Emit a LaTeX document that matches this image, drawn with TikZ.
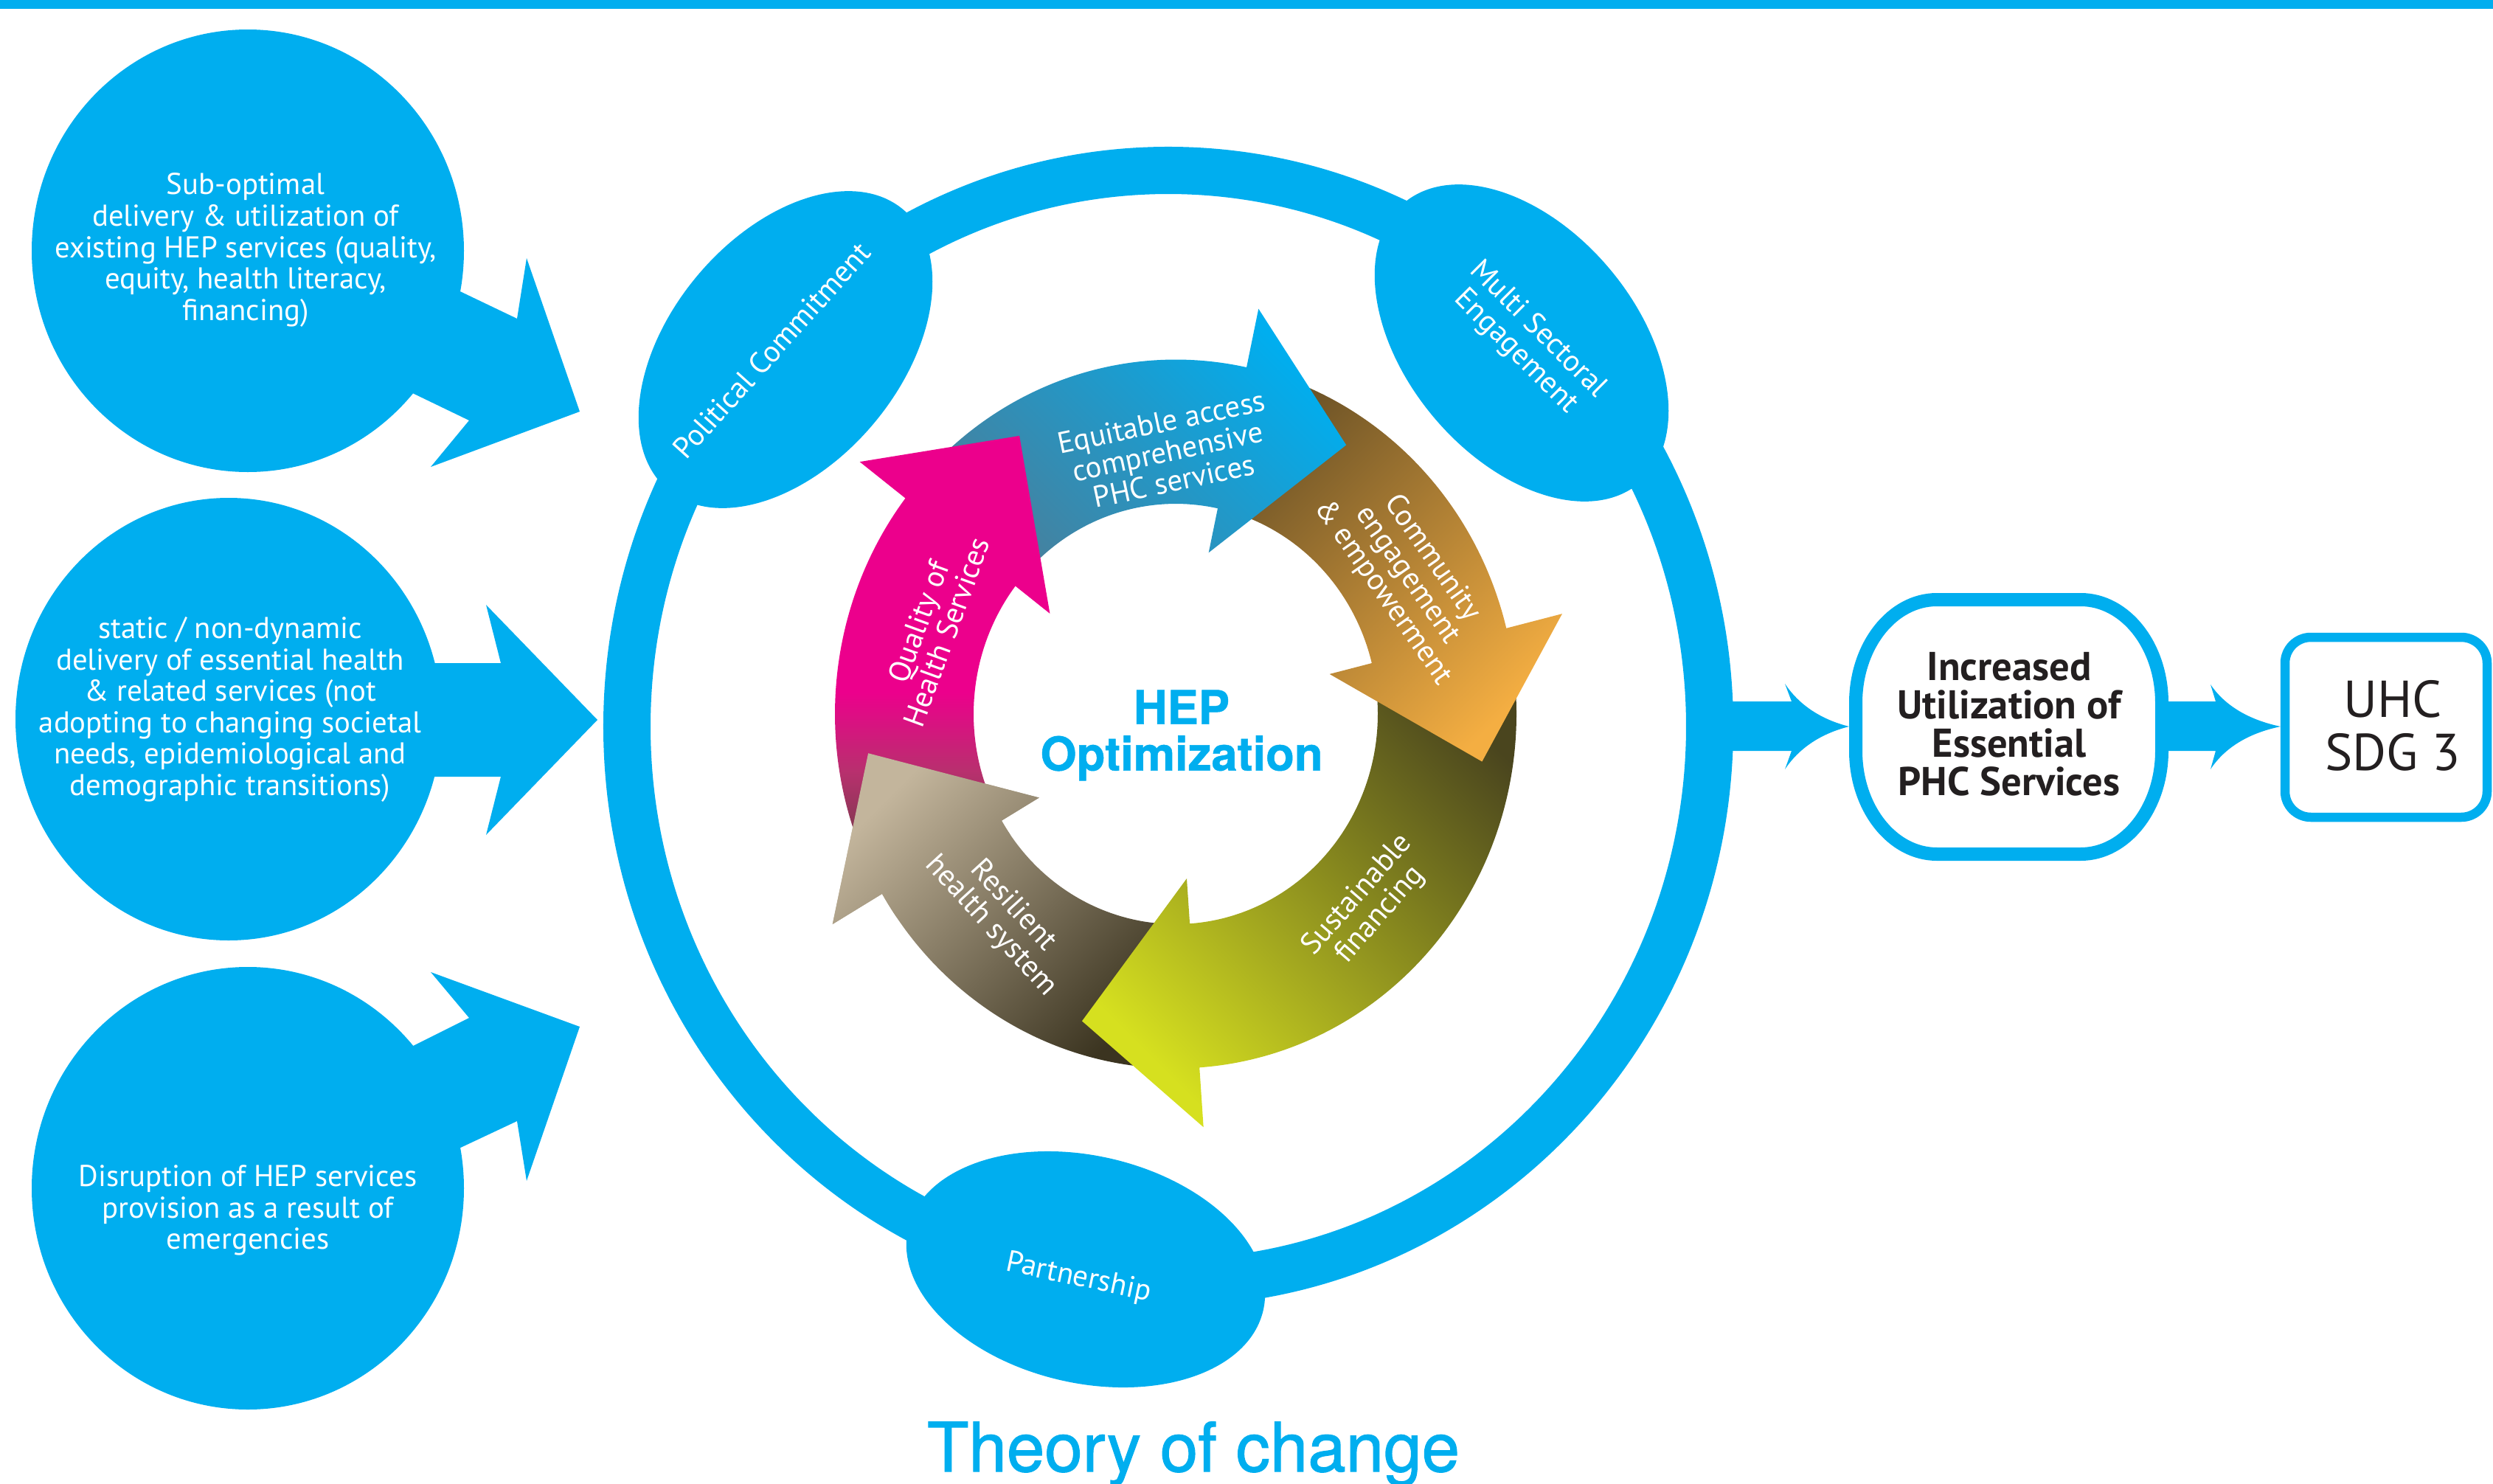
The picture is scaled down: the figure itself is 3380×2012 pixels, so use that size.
\documentclass[tikz,border=0pt]{standalone}
\usepackage{fontspec}
\setmainfont{PT Sans}
\newfontfamily\helv{TeX Gyre Heros}
\newfontfamily\helvmed[FakeBold=1.2]{TeX Gyre Heros}
\newfontfamily\helvbold[FakeBold=0.8]{TeX Gyre Heros Bold}
\definecolor{hepblue}{RGB}{0,174,239}
\definecolor{txtdark}{HTML}{231F20}
\definecolor{pinkA}{HTML}{EC008C}
\definecolor{pinkM}{HTML}{B8306E}
\definecolor{pinkB}{HTML}{7A3A4C}
\definecolor{blueA}{HTML}{00AEEF}
\definecolor{blueM}{HTML}{0796C6}
\definecolor{blueB}{HTML}{4A7E99}
\definecolor{orA}{HTML}{F4AE42}
\definecolor{orM}{HTML}{B4853A}
\definecolor{orB}{HTML}{6E5427}
\definecolor{ylA}{HTML}{D6E01F}
\definecolor{ylM}{HTML}{A4A82A}
\definecolor{ylB}{HTML}{4A451E}
\definecolor{bgA}{HTML}{C3B59C}
\definecolor{bgM}{HTML}{A89A7E}
\definecolor{bgB}{HTML}{3B3420}
\pgfdeclareverticalshading{pinkshade}{100bp}{color(0bp)=(pinkB); color(29bp)=(pinkB); color(37bp)=(pinkM); color(46bp)=(pinkA); color(100bp)=(pinkA)}
% cycle arrow: #1 tail angle, #2 head base angle, #3 tip angle, #4 options
\newcommand\cycarrow[4]{\path[#4] (#1:462) arc[start angle=#1, end angle=#2, radius=462]
  -- (#2:540) -- (#3:420) -- (#2:215) -- (#2:274)
  arc[start angle=#2, end angle=#1, radius=274] -- cycle;}
\begin{document}
\begin{tikzpicture}[x=0.01cm,y=-0.01cm,
  bubtxt/.style={text=white, align=center, font=\fontsize{11.6}{12.1}\selectfont, inner sep=0pt},
  cyctxt/.style={text=white, align=center, font=\fontsize{11.6}{11.6}\selectfont, inner sep=0pt},
  pinkst/.style={shading=pinkshade},
  bluest/.style={top color=blueA, middle color=blueM, bottom color=blueB, shading angle=-45},
  orst/.style={top color=orA, middle color=orM, bottom color=orB, shading angle=-135},
  ylst/.style={top color=ylA, middle color=ylM, bottom color=ylB, shading angle=135},
  bgst/.style={top color=bgA, middle color=bgM, bottom color=bgB, shading angle=45},
]
\useasboundingbox (0,0) rectangle (3380,2012);
\fill[hepblue] (0,0) rectangle (3380,12);

% left bubbles
\fill[hepblue] (336,340) ellipse [x radius=293, y radius=300];
\fill[hepblue] (584,376) -- (701,432) -- (714,350) -- (786,558) -- (584,633) -- (636,570) -- (522,515) -- cycle;
\fill[hepblue] (310,975) ellipse [x radius=289, y radius=300];
\fill[hepblue] (560,899) -- (679,899) -- (659,820) -- (810,976) -- (659,1132) -- (679,1053) -- (560,1053) -- cycle;
\fill[hepblue] (336,1611) ellipse [x radius=293, y radius=300];
\fill[hepblue] (522,1437) -- (636,1380) -- (584,1318) -- (786,1392) -- (714,1601) -- (701,1520) -- (584,1575) -- cycle;

\node[bubtxt] (b1) at (333,339) {Sub-optimal\\delivery \& utilization of\\existing HEP services (quality,\\equity, health literacy,\\financing)};
\node[bubtxt] (b2) at (312,962) {static / non-dynamic\\delivery of essential health\\\& related services (not\\adopting to changing societal\\needs, epidemiological and\\demographic transitions)};
\node[bubtxt] (b3) at (336,1641) {Disruption of HEP services\\provision as a result of\\emergencies};

% big ring and satellite ellipses
\draw[hepblue, line width=0.64cm] (1584,985) ellipse [x radius=734, y radius=754];
\fill[hepblue, rotate around={50:(1065,474)}] (1065,474) ellipse [x radius=248, y radius=156];
\fill[hepblue, rotate around={-50:(2063,465)}] (2063,465) ellipse [x radius=248, y radius=156];
\fill[hepblue, rotate around={-13:(1472,1721)}] (1472,1721) ellipse [x radius=247, y radius=154];

\node[bubtxt, rotate=48] (pc) at (1046,475) {Political Commitment};
\node[bubtxt, rotate=-45] (ms) at (2070,462) {Multi Sectoral\\Engagement};
\node[bubtxt, rotate=-12] (pt) at (1462,1733) {Partnership};

% right arrows and boxes
\fill[hepblue] (2330,951) -- (2429,951) -- (2420,927) .. controls (2442,960) and (2475,977) .. (2507,985)
  .. controls (2475,993) and (2442,1010) .. (2420,1043) -- (2429,1018) -- (2330,1018) -- cycle;
\fill[hepblue] (2930,951) -- (3004,951) -- (2997,928) .. controls (3020,962) and (3058,978) .. (3092,985)
  .. controls (3058,992) and (3020,1008) .. (2997,1043) -- (3004,1018) -- (2930,1018) -- cycle;
\draw[hepblue, line width=0.18cm, fill=white] (2626,813) -- (2821,813)
  arc[start angle=270, end angle=360, x radius=110, y radius=140] -- (2931,1018)
  arc[start angle=0, end angle=90, x radius=110, y radius=140] -- (2626,1158)
  arc[start angle=90, end angle=180, x radius=110, y radius=140] -- (2516,953)
  arc[start angle=180, end angle=270, x radius=110, y radius=140] -- cycle;
\draw[hepblue, line width=0.125cm, fill=white, rounded corners=0.35cm] (3098,864) rectangle (3372,1108);
\node[text=txtdark, align=center, inner sep=0pt, font=\bfseries\fontsize{15.5}{14.8}\selectfont] (inc) at (2724,982) {Increased\\Utilization of\\Essential\\PHC Services};
\node[text=txtdark, align=center, inner sep=0pt, font=\fontsize{20}{20.3}\selectfont] (uhc) at (3244,984) {UHC\\SDG 3};

% inner cycle
\begin{scope}[shift={(1594,968)}, yscale=1.04]
\cycarrow{89}{149.5}{173}{bgst}
\cycarrow{-11}{86}{107.6}{ylst}
\cycarrow{285}{346}{368.5}{orst}
\cycarrow{220.5}{282}{303.4}{bluest}
\cycarrow{152.5}{217.5}{239.7}{pinkst}
\begin{scope}
\clip (0,0) -- (145:620) arc[start angle=145, end angle=182, radius=620] -- cycle;
\cycarrow{89}{149.5}{173}{bgst}
\end{scope}
\end{scope}

\node[cyctxt, rotate=12] (eq) at (1583,612) {Equitable access\\comprehensive\\PHC services};
\node[cyctxt, rotate=-55] (ce) at (1908,780) {Community\\engagement\\\& empowerment};
\node[cyctxt, rotate=49] (sf) at (1856,1227) {Sustainable\\financing};
\node[cyctxt, rotate=-47.5] (rh) at (1358,1242) {Resilient\\health system};
\node[cyctxt, rotate=70] (qh) at (1264,850) {Quality of\\Health Services};

\node[text=hepblue, align=center, inner sep=0pt, font=\helvbold\fontsize{18}{17.9}\selectfont] (hep) at (1602,997) {HEP\\Optimization};
\node[text=hepblue, inner sep=0pt, anchor=base, font=\helvmed\fontsize{26.3}{30}\selectfont] (toc) at (1618,1995) {Theory of change};
\end{tikzpicture}
\end{document}
